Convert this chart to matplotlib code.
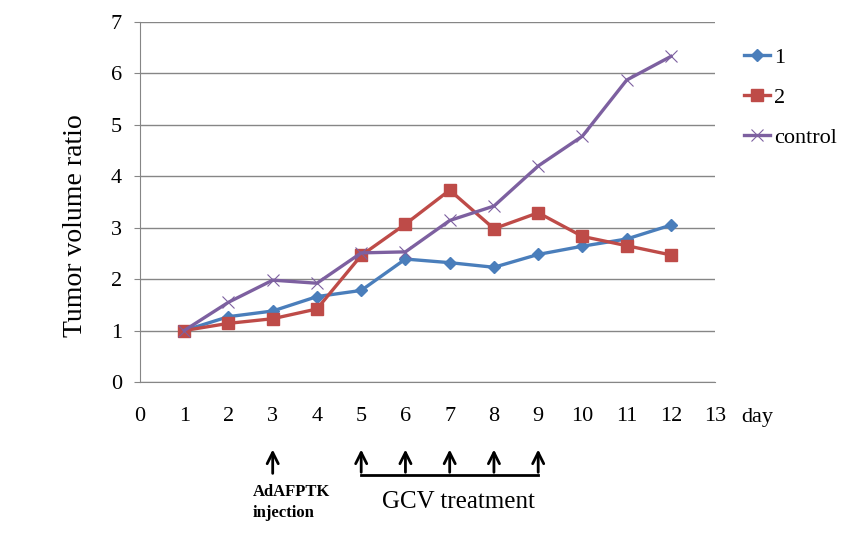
import matplotlib
matplotlib.use("Agg")
from matplotlib import pyplot as plt
from matplotlib import transforms

days = [1, 2, 3, 4, 5, 6, 7, 8, 9, 10, 11, 12]
group1 = [1.0, 1.27, 1.38, 1.66, 1.78, 2.39, 2.32, 2.23, 2.48, 2.64, 2.78, 3.05]
group2 = [1.0, 1.14, 1.23, 1.42, 2.46, 3.07, 3.73, 2.98, 3.29, 2.83, 2.65, 2.47]
control = [1.0, 1.55, 1.98, 1.92, 2.51, 2.53, 3.14, 3.42, 4.2, 4.78, 5.87, 6.33]

injection_day = 3
gcv_days = [5, 6, 7, 8, 9]

plt.rcParams['font.family'] = ['Liberation Serif', 'DejaVu Serif']

fig = plt.figure(figsize=(8.65, 5.35), dpi=100)
ax = fig.add_axes([0.1618, 0.286, 0.665, 0.673])

ax.plot(days, group1, color="#4a7ebb", lw=2.4, marker="D", ms=6, label="1", zorder=3)
ax.plot(days, group2, color="#be4b48", lw=2.4, marker="s", ms=8, label="2", zorder=3)
ax.plot(days, control, color="#7d60a0", lw=2.4, marker="x", ms=9, mew=0.8, label="control", zorder=3)

ax.set_xlim(0, 13)
ax.set_ylim(0, 7)
ax.set_xticks(range(0, 14))
ax.set_yticks(range(0, 8))
ax.yaxis.grid(True, color="#868686", lw=1)
ax.set_axisbelow(True)
for s in ["top", "right"]:
    ax.spines[s].set_visible(False)
ax.spines["left"].set_color("#868686")
ax.spines["bottom"].set_color("#868686")
ax.tick_params(axis="x", length=0, pad=18, labelsize=16)
ax.tick_params(axis="y", length=4, color="#868686", pad=9, labelsize=16)
ax.set_ylabel("Tumor volume ratio", fontsize=20)
ax.yaxis.set_label_coords(-0.09, 0.433)
ax.text(13.6, -0.7, "day", fontsize=16, ha="left", va="center")

ax.legend(loc="upper left", bbox_to_anchor=(1.015, 0.985), frameon=False,
          fontsize=16, handlelength=1.2, handletextpad=0.15, labelspacing=0.88)

# treatment arrows below the axis
tr = transforms.blended_transform_factory(ax.transData, fig.transFigure)
y_low, y_high = 0.112, 0.165
ax.annotate("", xy=(injection_day, y_high), xytext=(injection_day, y_low - 0.002),
            xycoords=tr, textcoords=tr,
            arrowprops=dict(arrowstyle="->", lw=2, color="black", mutation_scale=20))
for d in gcv_days:
    ax.annotate("", xy=(d, y_high), xytext=(d, y_low),
                xycoords=tr, textcoords=tr,
                arrowprops=dict(arrowstyle="->", lw=2, color="black", mutation_scale=20))
ax.plot([gcv_days[0], gcv_days[-1]], [y_low, y_low], color="black", lw=2,
        transform=tr, clip_on=False)

ax.text(injection_day - 0.45, 0.061, "AdAFPTK\ninjection", transform=tr, ha="left", va="center",
        fontsize=12, fontweight="bold", linespacing=1.45)
ax.text(7.2, 0.062, "GCV treatment", transform=tr, ha="center", va="center", fontsize=18)

fig.savefig("out.png", dpi=100)
